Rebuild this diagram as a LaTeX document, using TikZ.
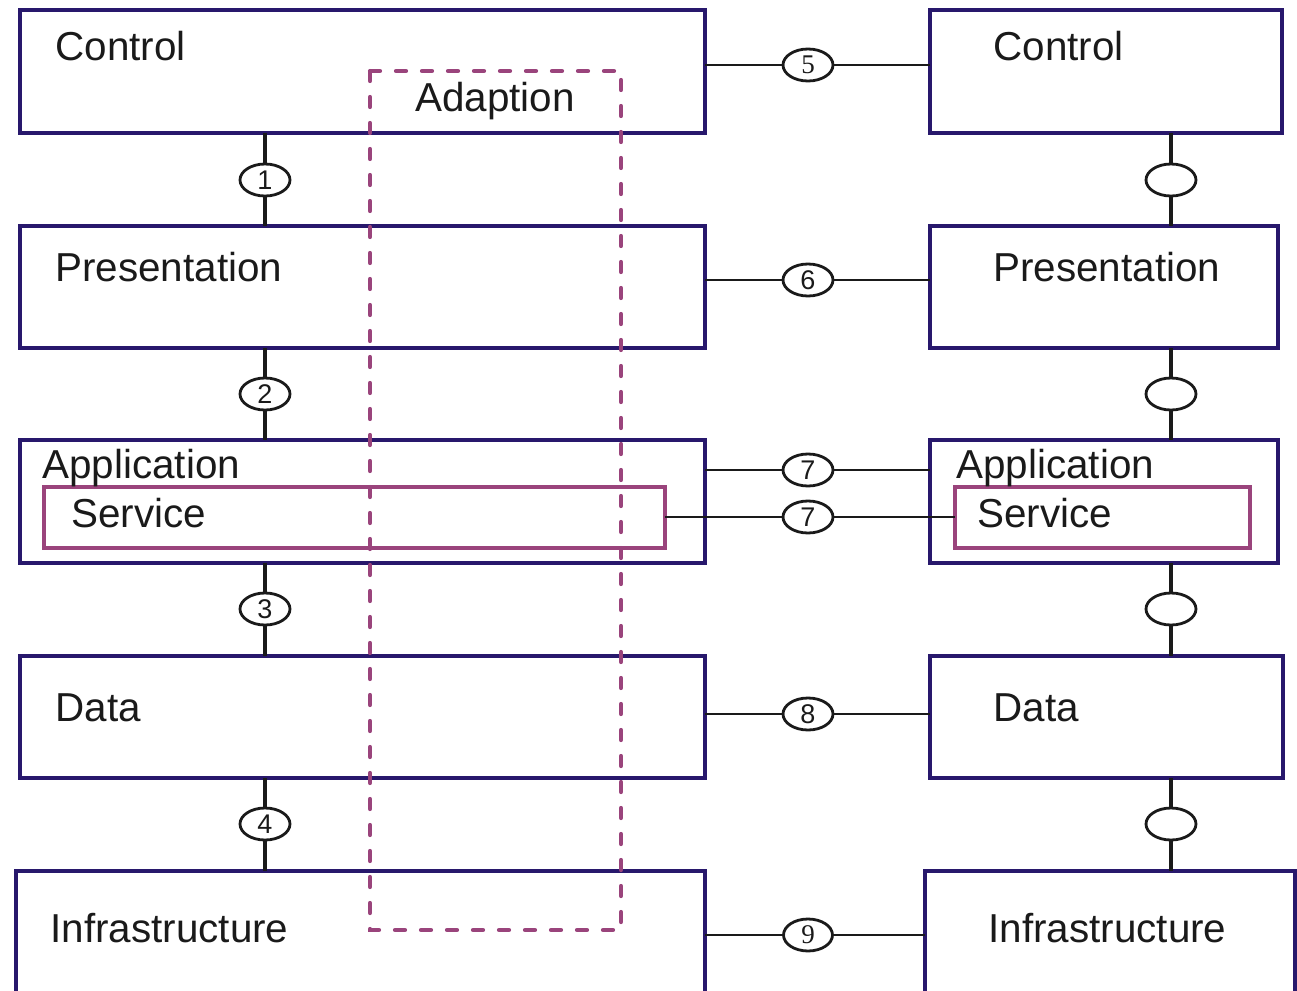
\documentclass[tikz,border=0pt]{standalone}
\usepackage{fontspec}
\setmainfont{Liberation Sans}
\newfontfamily\numserif{Liberation Serif}
\usetikzlibrary{shapes.geometric}
\definecolor{layernavy}{RGB}{40,24,108}
\definecolor{plum}{RGB}{154,68,124}
\definecolor{ink}{RGB}{26,26,26}
\begin{document}
\begin{tikzpicture}[x=0.5pt,y=-0.5pt,
  layer/.style={draw=layernavy, line width=2pt, rectangle, inner sep=0pt, outer sep=0pt, anchor=north west},
  svc/.style={draw=plum, line width=1.8pt, rectangle, inner sep=0pt, outer sep=0pt, anchor=north west},
  lbl/.style={anchor=base west, inner sep=0pt, text=ink, font=\fontsize{20.2}{24}\selectfont},
  link/.style={draw=ink, fill=white, ellipse, line width=1.4pt, minimum width=25pt, minimum height=16pt, inner sep=0pt, text=ink, font=\fontsize{13.5}{13.5}\selectfont},
  vwire/.style={draw=ink, line width=2pt},
  hwire/.style={draw=ink, line width=1.3pt},
  adapt/.style={draw=plum, line width=2.1pt, line cap=round, dash pattern=on 5pt off 8pt},
]
\useasboundingbox (0,0) rectangle (1297,991);
\clip (0,0) rectangle (1297,991);

% ---- left stack ----
\node[layer, minimum width=342.5pt, minimum height=61.5pt] (lctl) at (20,10) {};
\node[layer, minimum width=342.5pt, minimum height=61pt]   (lpre) at (20,226) {};
\node[layer, minimum width=342.5pt, minimum height=61.5pt] (lapp) at (20,440) {};
\node[svc,   minimum width=310.5pt, minimum height=30.5pt] (lsvc) at (44,487) {};
\node[layer, minimum width=342.5pt, minimum height=61pt]   (ldat) at (20,656) {};
\node[layer, minimum width=344.5pt, minimum height=75pt]   (linf) at (16,871) {};

% ---- right stack ----
\node[layer, minimum width=176pt,   minimum height=61.5pt] (rctl) at (930,10) {};
\node[layer, minimum width=174pt,   minimum height=61pt]   (rpre) at (930,226) {};
\node[layer, minimum width=174pt,   minimum height=61.5pt] (rapp) at (930,440) {};
\node[svc,   minimum width=147.5pt, minimum height=30.5pt] (rsvc) at (955,487) {};
\node[layer, minimum width=176.5pt, minimum height=61pt]   (rdat) at (930,656) {};
\node[layer, minimum width=185pt,   minimum height=75pt]   (rinf) at (925,871) {};

% ---- layer names ----
\node[lbl] (tlctl) at (55,60)  {Control};
\node[lbl] (tadap) at (415,111) {Adaption};
\node[lbl] (tlpre) at (55,281) {Presentation};
\node[lbl] (tlapp) at (42,478) {Application};
\node[lbl] (tlsvc) at (71,527) {Service};
\node[lbl] (tldat) at (55,721) {Data};
\node[lbl] (tlinf) at (50,942) {Infrastructure};

\node[lbl] (trctl) at (993,60)  {Control};
\node[lbl] (trpre) at (993,281) {Presentation};
\node[lbl] (trapp) at (956,478) {Application};
\node[lbl] (trsvc) at (977,527) {Service};
\node[lbl] (trdat) at (993,721) {Data};
\node[lbl] (trinf) at (988,942) {Infrastructure};

% ---- vertical interfaces, left ----
\node[link] (v1) at (265,180) {1};
\node[link] (v2) at (265,394) {2};
\node[link] (v3) at (265,609) {3};
\node[link] (v4) at (265,824) {4};
\draw[vwire] (lctl.south -| v1) -- (v1);  \draw[vwire] (v1) -- (lpre.north -| v1);
\draw[vwire] (lpre.south -| v2) -- (v2);  \draw[vwire] (v2) -- (lapp.north -| v2);
\draw[vwire] (lapp.south -| v3) -- (v3);  \draw[vwire] (v3) -- (ldat.north -| v3);
\draw[vwire] (ldat.south -| v4) -- (v4);  \draw[vwire] (v4) -- (linf.north -| v4);

% ---- vertical interfaces, right ----
\node[link] (w1) at (1171,180) {};
\node[link] (w2) at (1171,394) {};
\node[link] (w3) at (1171,609) {};
\node[link] (w4) at (1171,824) {};
\draw[vwire] (rctl.south -| w1) -- (w1);  \draw[vwire] (w1) -- (rpre.north -| w1);
\draw[vwire] (rpre.south -| w2) -- (w2);  \draw[vwire] (w2) -- (rapp.north -| w2);
\draw[vwire] (rapp.south -| w3) -- (w3);  \draw[vwire] (w3) -- (rdat.north -| w3);
\draw[vwire] (rdat.south -| w4) -- (w4);  \draw[vwire] (w4) -- (rinf.north -| w4);

% ---- peer interfaces ----
\node[link] (h5) at (808,65)  {\numserif 5};
\node[link] (h6) at (808,280) {6};
\node[link] (h7) at (808,470) {7};
\node[link] (h7s) at (808,517) {7};
\node[link] (h8) at (808,714) {\raisebox{-2pt}{8}};
\node[link, minimum width=24.5pt] (h9) at (808,935) {\raisebox{-2.5pt}{\numserif 9}};
\draw[hwire] (lctl.east |- h5) -- (h5);   \draw[hwire] (h5) -- (rctl.west |- h5);
\draw[hwire] (lpre.east |- h6) -- (h6);   \draw[hwire] (h6) -- (rpre.west |- h6);
\draw[hwire] (lapp.east |- h7) -- (h7);   \draw[hwire] (h7) -- (rapp.west |- h7);
\draw[hwire] (lsvc.east |- h7s) -- (h7s); \draw[hwire] (h7s) -- (rsvc.west |- h7s);
\draw[hwire] (ldat.east |- h8) -- (h8);   \draw[hwire] (h8) -- (rdat.west |- h8);
\draw[hwire] (linf.east |- h9) -- (h9);   \draw[hwire] (h9) -- (rinf.west |- h9);

% ---- adaption region ----
\draw[adapt] (370,71) rectangle (621,930);
\end{tikzpicture}
\end{document}
